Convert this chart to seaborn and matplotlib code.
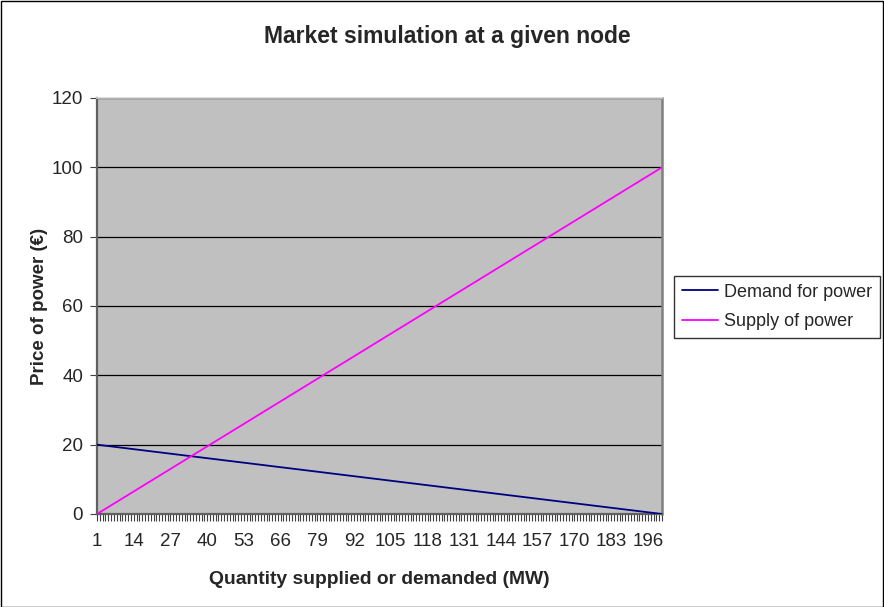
import matplotlib
matplotlib.use("Agg")
import matplotlib.pyplot as plt
from matplotlib.patches import Rectangle
from matplotlib.ticker import FixedLocator, MultipleLocator
import seaborn as sns
import pandas as pd

# Quantity categories (MW)
quantity = list(range(1, 202))

# Price of power (€) for each quantity
demand_price = [
    20.0, 19.9, 19.8, 19.7, 19.6, 19.5, 19.4, 19.3, 19.2, 19.1,
    19.0, 18.9, 18.8, 18.7, 18.6, 18.5, 18.4, 18.3, 18.2, 18.1,
    18.0, 17.9, 17.8, 17.7, 17.6, 17.5, 17.4, 17.3, 17.2, 17.1,
    17.0, 16.9, 16.8, 16.7, 16.6, 16.5, 16.4, 16.3, 16.2, 16.1,
    16.0, 15.9, 15.8, 15.7, 15.6, 15.5, 15.4, 15.3, 15.2, 15.1,
    15.0, 14.9, 14.8, 14.7, 14.6, 14.5, 14.4, 14.3, 14.2, 14.1,
    14.0, 13.9, 13.8, 13.7, 13.6, 13.5, 13.4, 13.3, 13.2, 13.1,
    13.0, 12.9, 12.8, 12.7, 12.6, 12.5, 12.4, 12.3, 12.2, 12.1,
    12.0, 11.9, 11.8, 11.7, 11.6, 11.5, 11.4, 11.3, 11.2, 11.1,
    11.0, 10.9, 10.8, 10.7, 10.6, 10.5, 10.4, 10.3, 10.2, 10.1,
    10.0, 9.9, 9.8, 9.7, 9.6, 9.5, 9.4, 9.3, 9.2, 9.1,
    9.0, 8.9, 8.8, 8.7, 8.6, 8.5, 8.4, 8.3, 8.2, 8.1,
    8.0, 7.9, 7.8, 7.7, 7.6, 7.5, 7.4, 7.3, 7.2, 7.1,
    7.0, 6.9, 6.8, 6.7, 6.6, 6.5, 6.4, 6.3, 6.2, 6.1,
    6.0, 5.9, 5.8, 5.7, 5.6, 5.5, 5.4, 5.3, 5.2, 5.1,
    5.0, 4.9, 4.8, 4.7, 4.6, 4.5, 4.4, 4.3, 4.2, 4.1,
    4.0, 3.9, 3.8, 3.7, 3.6, 3.5, 3.4, 3.3, 3.2, 3.1,
    3.0, 2.9, 2.8, 2.7, 2.6, 2.5, 2.4, 2.3, 2.2, 2.1,
    2.0, 1.9, 1.8, 1.7, 1.6, 1.5, 1.4, 1.3, 1.2, 1.1,
    1.0, 0.9, 0.8, 0.7, 0.6, 0.5, 0.4, 0.3, 0.2, 0.1,
    0.0,
]

supply_price = [
    0.0, 0.5, 1.0, 1.5, 2.0, 2.5, 3.0, 3.5, 4.0, 4.5,
    5.0, 5.5, 6.0, 6.5, 7.0, 7.5, 8.0, 8.5, 9.0, 9.5,
    10.0, 10.5, 11.0, 11.5, 12.0, 12.5, 13.0, 13.5, 14.0, 14.5,
    15.0, 15.5, 16.0, 16.5, 17.0, 17.5, 18.0, 18.5, 19.0, 19.5,
    20.0, 20.5, 21.0, 21.5, 22.0, 22.5, 23.0, 23.5, 24.0, 24.5,
    25.0, 25.5, 26.0, 26.5, 27.0, 27.5, 28.0, 28.5, 29.0, 29.5,
    30.0, 30.5, 31.0, 31.5, 32.0, 32.5, 33.0, 33.5, 34.0, 34.5,
    35.0, 35.5, 36.0, 36.5, 37.0, 37.5, 38.0, 38.5, 39.0, 39.5,
    40.0, 40.5, 41.0, 41.5, 42.0, 42.5, 43.0, 43.5, 44.0, 44.5,
    45.0, 45.5, 46.0, 46.5, 47.0, 47.5, 48.0, 48.5, 49.0, 49.5,
    50.0, 50.5, 51.0, 51.5, 52.0, 52.5, 53.0, 53.5, 54.0, 54.5,
    55.0, 55.5, 56.0, 56.5, 57.0, 57.5, 58.0, 58.5, 59.0, 59.5,
    60.0, 60.5, 61.0, 61.5, 62.0, 62.5, 63.0, 63.5, 64.0, 64.5,
    65.0, 65.5, 66.0, 66.5, 67.0, 67.5, 68.0, 68.5, 69.0, 69.5,
    70.0, 70.5, 71.0, 71.5, 72.0, 72.5, 73.0, 73.5, 74.0, 74.5,
    75.0, 75.5, 76.0, 76.5, 77.0, 77.5, 78.0, 78.5, 79.0, 79.5,
    80.0, 80.5, 81.0, 81.5, 82.0, 82.5, 83.0, 83.5, 84.0, 84.5,
    85.0, 85.5, 86.0, 86.5, 87.0, 87.5, 88.0, 88.5, 89.0, 89.5,
    90.0, 90.5, 91.0, 91.5, 92.0, 92.5, 93.0, 93.5, 94.0, 94.5,
    95.0, 95.5, 96.0, 96.5, 97.0, 97.5, 98.0, 98.5, 99.0, 99.5,
    100.0,
]

series_names = ["Demand for power", "Supply of power"]
series_colors = ["#000080", "#FF00FF"]
x_tick_labels = list(range(1, 197, 13))
y_ticks = [0, 20, 40, 60, 80, 100, 120]

sns.set_theme(style="white")
plt.rcParams["font.family"] = ["Liberation Sans", "DejaVu Sans"]
plt.rcParams["font.size"] = 13

df = pd.DataFrame({
    "quantity": quantity * 2,
    "price": demand_price + supply_price,
    "series": [series_names[0]] * len(quantity) + [series_names[1]] * len(quantity),
})

W, H = 884, 607
fig = plt.figure(figsize=(W / 100, H / 100), dpi=100)
fig.patch.set_facecolor("white")
ax = fig.add_axes([97 / W, 1 - 514 / H, (662 - 97) / W, (514 - 98) / H])
ax.set_facecolor("#C0C0C0")

sns.lineplot(data=df, x="quantity", y="price", hue="series",
             palette=series_colors, hue_order=series_names,
             linewidth=1.3, ax=ax, legend=False, zorder=3)

ax.set_xlim(1, 201)
ax.set_ylim(0, 120)
ax.set_yticks(y_ticks)
ax.yaxis.grid(True, color="black", linewidth=0.9)
ax.set_axisbelow(True)

ax.xaxis.set_major_locator(FixedLocator(x_tick_labels))
ax.xaxis.set_minor_locator(MultipleLocator(1))
ax.set_xticklabels([str(v) for v in x_tick_labels])
ax.tick_params(axis="x", which="both", direction="out", length=5, width=0.8,
               color="#404040", bottom=True, labelsize=13.5, pad=9)
ax.tick_params(axis="y", direction="out", length=5, width=0.8,
               color="#404040", left=True, labelsize=13.5, pad=5)

for side, col, lw in [("left", "#606060", 1.6), ("bottom", "#606060", 1.6),
                      ("right", "#808080", 1.8), ("top", "#D8D8D8", 1.2)]:
    ax.spines[side].set_visible(True)
    ax.spines[side].set_color(col)
    ax.spines[side].set_linewidth(lw)

ax.set_xlabel("Quantity supplied or demanded (MW)", fontsize=13.9,
              fontweight="bold", labelpad=15)
ax.set_ylabel("Price of power (€)", fontsize=13.5, fontweight="bold", labelpad=3)
fig.text(447 / W, 1 - 37 / H, "Market simulation at a given node",
         ha="center", va="center", fontsize=16.5, fontweight="bold")

handles = [plt.Line2D([], [], color=c, linewidth=1.3) for c in series_colors]
leg = fig.legend(handles, series_names, loc="center left",
                 bbox_to_anchor=(674 / W, 1 - 307 / H), frameon=True,
                 fancybox=False, shadow=False, fontsize=13,
                 handlelength=2.0, handletextpad=0.3, borderpad=0.45,
                 labelspacing=0.7, borderaxespad=0)
leg.get_frame().set_edgecolor("black")
leg.get_frame().set_linewidth(1.0)
leg.get_frame().set_facecolor("white")

# outer chart border
fig.patches.append(Rectangle((0.5 / W, 0.5 / H), 1 - 1.5 / W, 1 - 1.5 / H,
                             transform=fig.transFigure, fill=False,
                             edgecolor="black", linewidth=1.0))

fig.savefig("out.png", dpi=100)
